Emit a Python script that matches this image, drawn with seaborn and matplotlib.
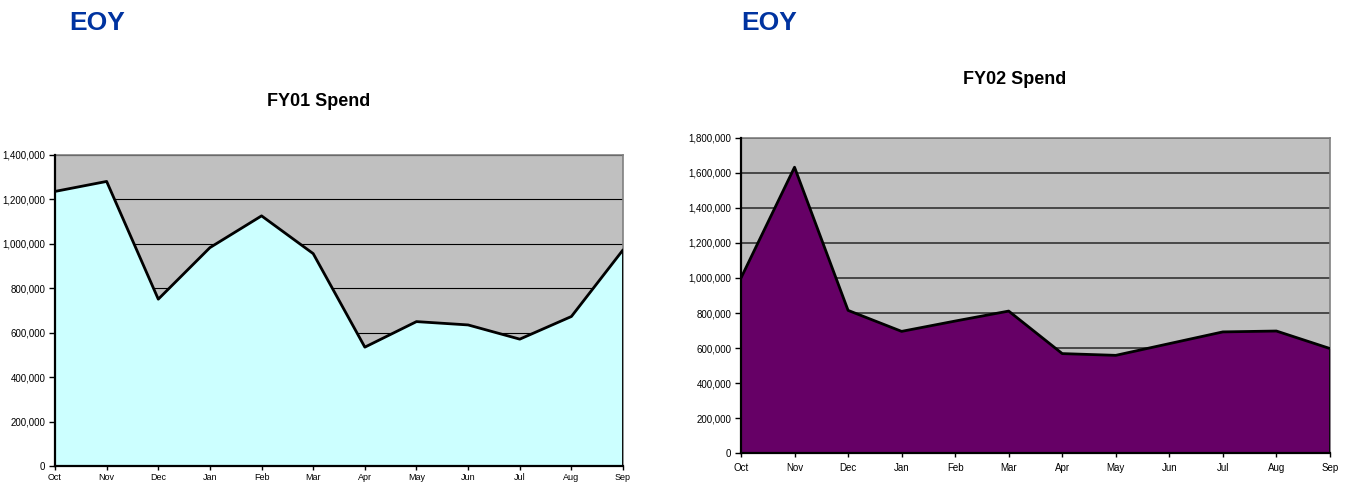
import numpy as np
import pandas as pd
import matplotlib
matplotlib.use("Agg")
import matplotlib.pyplot as plt
import seaborn as sns
from matplotlib.ticker import FuncFormatter

months = ["Oct", "Nov", "Dec", "Jan", "Feb", "Mar", "Apr", "May", "Jun", "Jul", "Aug", "Sep"]
fy01_spend = [1236000, 1281000, 751000, 983000, 1126000, 956000, 535000, 650000, 635000, 571000, 673000, 973000]
fy02_spend = [1000000, 1633000, 815000, 695000, 754000, 811000, 568000, 558000, 625000, 692000, 697000, 597000]

sns.set_style("white")
plt.rcParams['font.family'] = ['Liberation Sans', 'DejaVu Sans']
plt.rcParams['text.color'] = 'black'

fig = plt.figure(figsize=(13.48, 4.83), dpi=100)
ax1 = fig.add_axes([0.0408, 0.0352, 0.4214, 0.6439])
ax2 = fig.add_axes([0.5497, 0.0621, 0.4369, 0.6522])


def draw_panel(ax, values, fill_color, ymax, grid_color, grid_lw):
    df = pd.DataFrame({"x": np.arange(len(months)), "spend": values})
    ax.set_facecolor("#C0C0C0")
    ax.fill_between(df["x"], 0, df["spend"], color=fill_color, zorder=2, linewidth=0)
    sns.lineplot(data=df, x="x", y="spend", ax=ax, color="black", linewidth=2, zorder=3)
    ax.vlines(df["x"].iloc[-1], 0, df["spend"].iloc[-1], color="black", linewidth=2, zorder=3)
    ax.set_xlim(0, len(months) - 1)
    ax.set_ylim(0, ymax)
    ax.set_yticks(np.arange(0, ymax + 1, 200000))
    ax.yaxis.set_major_formatter(FuncFormatter(lambda v, p: f"{int(v):,}"))
    ax.set_xticks(df["x"])
    ax.set_xticklabels(months)
    ax.grid(axis="y", color=grid_color, linewidth=grid_lw, zorder=1)
    ax.grid(axis="x", visible=False)
    ax.set_axisbelow(True)
    ax.tick_params(axis="both", direction="out", length=4, width=1, colors="black",
                   labelsize=7, bottom=True, left=True, pad=3)
    ax.tick_params(axis="x", length=3, pad=2, labelsize=6.5)
    for s in ["left", "bottom"]:
        ax.spines[s].set_color("black")
        ax.spines[s].set_linewidth(1.6)
        ax.spines[s].set_zorder(4)
    for s in ["top", "right"]:
        ax.spines[s].set_color("#808080")
        ax.spines[s].set_linewidth(1.2)
    ax.set_xlabel("")
    ax.set_ylabel("")


draw_panel(ax1, fy01_spend, "#CCFFFF", 1400000, "black", 0.8)
draw_panel(ax2, fy02_spend, "#660066", 1800000, "#333333", 1.2)
ax2.tick_params(axis="x", pad=4, labelsize=7)

fig.text(69 / 1348, 1 - 23 / 483, "EOY", color="#0033A0", fontsize=19, fontweight="bold",
         ha="left", va="center")
fig.text(741 / 1348, 1 - 23 / 483, "EOY", color="#0033A0", fontsize=19, fontweight="bold",
         ha="left", va="center")
fig.text(319 / 1348, 1 - 101 / 483, "FY01 Spend", fontsize=13, fontweight="bold",
         ha="center", va="center", color="black")
fig.text(1015 / 1348, 1 - 80 / 483, "FY02 Spend", fontsize=13, fontweight="bold",
         ha="center", va="center", color="black")

fig.savefig("out.png", dpi=100, facecolor="white")
